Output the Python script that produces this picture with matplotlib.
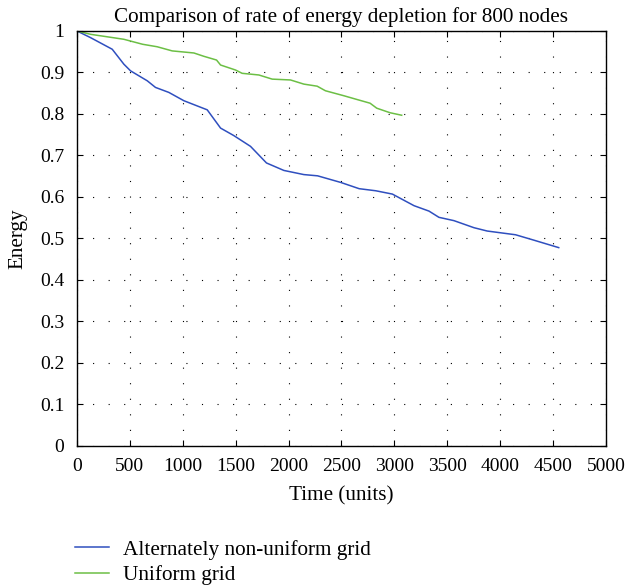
import matplotlib
matplotlib.use("Agg")
import matplotlib.pyplot as plt

# energy over time
t_nonuniform = [0, 128, 333, 443, 506, 664, 742, 868, 1010, 1231, 1294, 1357, 1482,
                1640, 1791, 1955, 2144, 2274, 2494, 2667, 2824, 2981, 3186, 3327,
                3421, 3563, 3752, 3877, 4145, 4318, 4553]
e_nonuniform = [1.0, 0.984, 0.956, 0.920, 0.904, 0.880, 0.864, 0.852, 0.832, 0.810,
                0.788, 0.766, 0.748, 0.722, 0.682, 0.664, 0.654, 0.651, 0.635, 0.620,
                0.615, 0.607, 0.579, 0.566, 0.551, 0.543, 0.526, 0.518, 0.509, 0.496,
                0.478]

t_uniform = [0, 128, 286, 443, 620, 758, 900, 1105, 1199, 1319, 1357, 1498, 1561,
             1719, 1845, 2018, 2144, 2270, 2348, 2522, 2659, 2770, 2833, 2959, 3069]
e_uniform = [1.0, 0.992, 0.986, 0.980, 0.968, 0.962, 0.952, 0.947, 0.939, 0.930,
             0.918, 0.906, 0.898, 0.894, 0.884, 0.882, 0.872, 0.867, 0.856, 0.844,
             0.834, 0.826, 0.814, 0.803, 0.797]

x_ticks = [0, 500, 1000, 1500, 2000, 2500, 3000, 3500, 4000, 4500, 5000]
y_ticks = [0, 0.1, 0.2, 0.3, 0.4, 0.5, 0.6, 0.7, 0.8, 0.9, 1]
y_labels = ["0", "0.1", "0.2", "0.3", "0.4", "0.5", "0.6", "0.7", "0.8", "0.9", "1"]

plt.rcParams["font.family"] = ["Liberation Serif", "DejaVu Serif"]
plt.rcParams["font.size"] = 15.2

fig = plt.figure(figsize=(6.27, 5.88), dpi=100)
ax = fig.add_axes([0.1228, 0.2415, 0.8437, 0.7058])

l1, = ax.plot(t_nonuniform, e_nonuniform, color="#2f4fbf", linewidth=1.1)
l2, = ax.plot(t_uniform, e_uniform, color="#6cbf45", linewidth=1.1)

ax.set_xlim(0, 5000)
ax.set_ylim(0, 1)
ax.set_xticks(x_ticks)
ax.set_yticks(y_ticks)
ax.set_yticklabels(y_labels)
ax.tick_params(direction="in", top=True, right=True, length=4, width=0.8,
               labelsize=14, pad=9)
for s in ax.spines.values():
    s.set_linewidth(1.0)

ax.grid(True, color="black", linestyle=(0, (1, 13)), linewidth=0.8)

ax.set_title("Comparison of rate of energy depletion for 800 nodes",
             fontsize=15.2, pad=6.5)
ax.set_xlabel("Time (units)", fontsize=15.2, labelpad=8)
ax.set_ylabel("Energy", fontsize=15.2, labelpad=9)

fig.legend([l1, l2], ["Alternately non-uniform grid", "Uniform grid"],
           loc="upper left", bbox_to_anchor=(0.1196, 0.0823),
           frameon=False, fontsize=15.3, handlelength=1.6, handletextpad=0.66,
           labelspacing=0.27, borderaxespad=0, borderpad=0)

fig.savefig("out.png", dpi=100)
